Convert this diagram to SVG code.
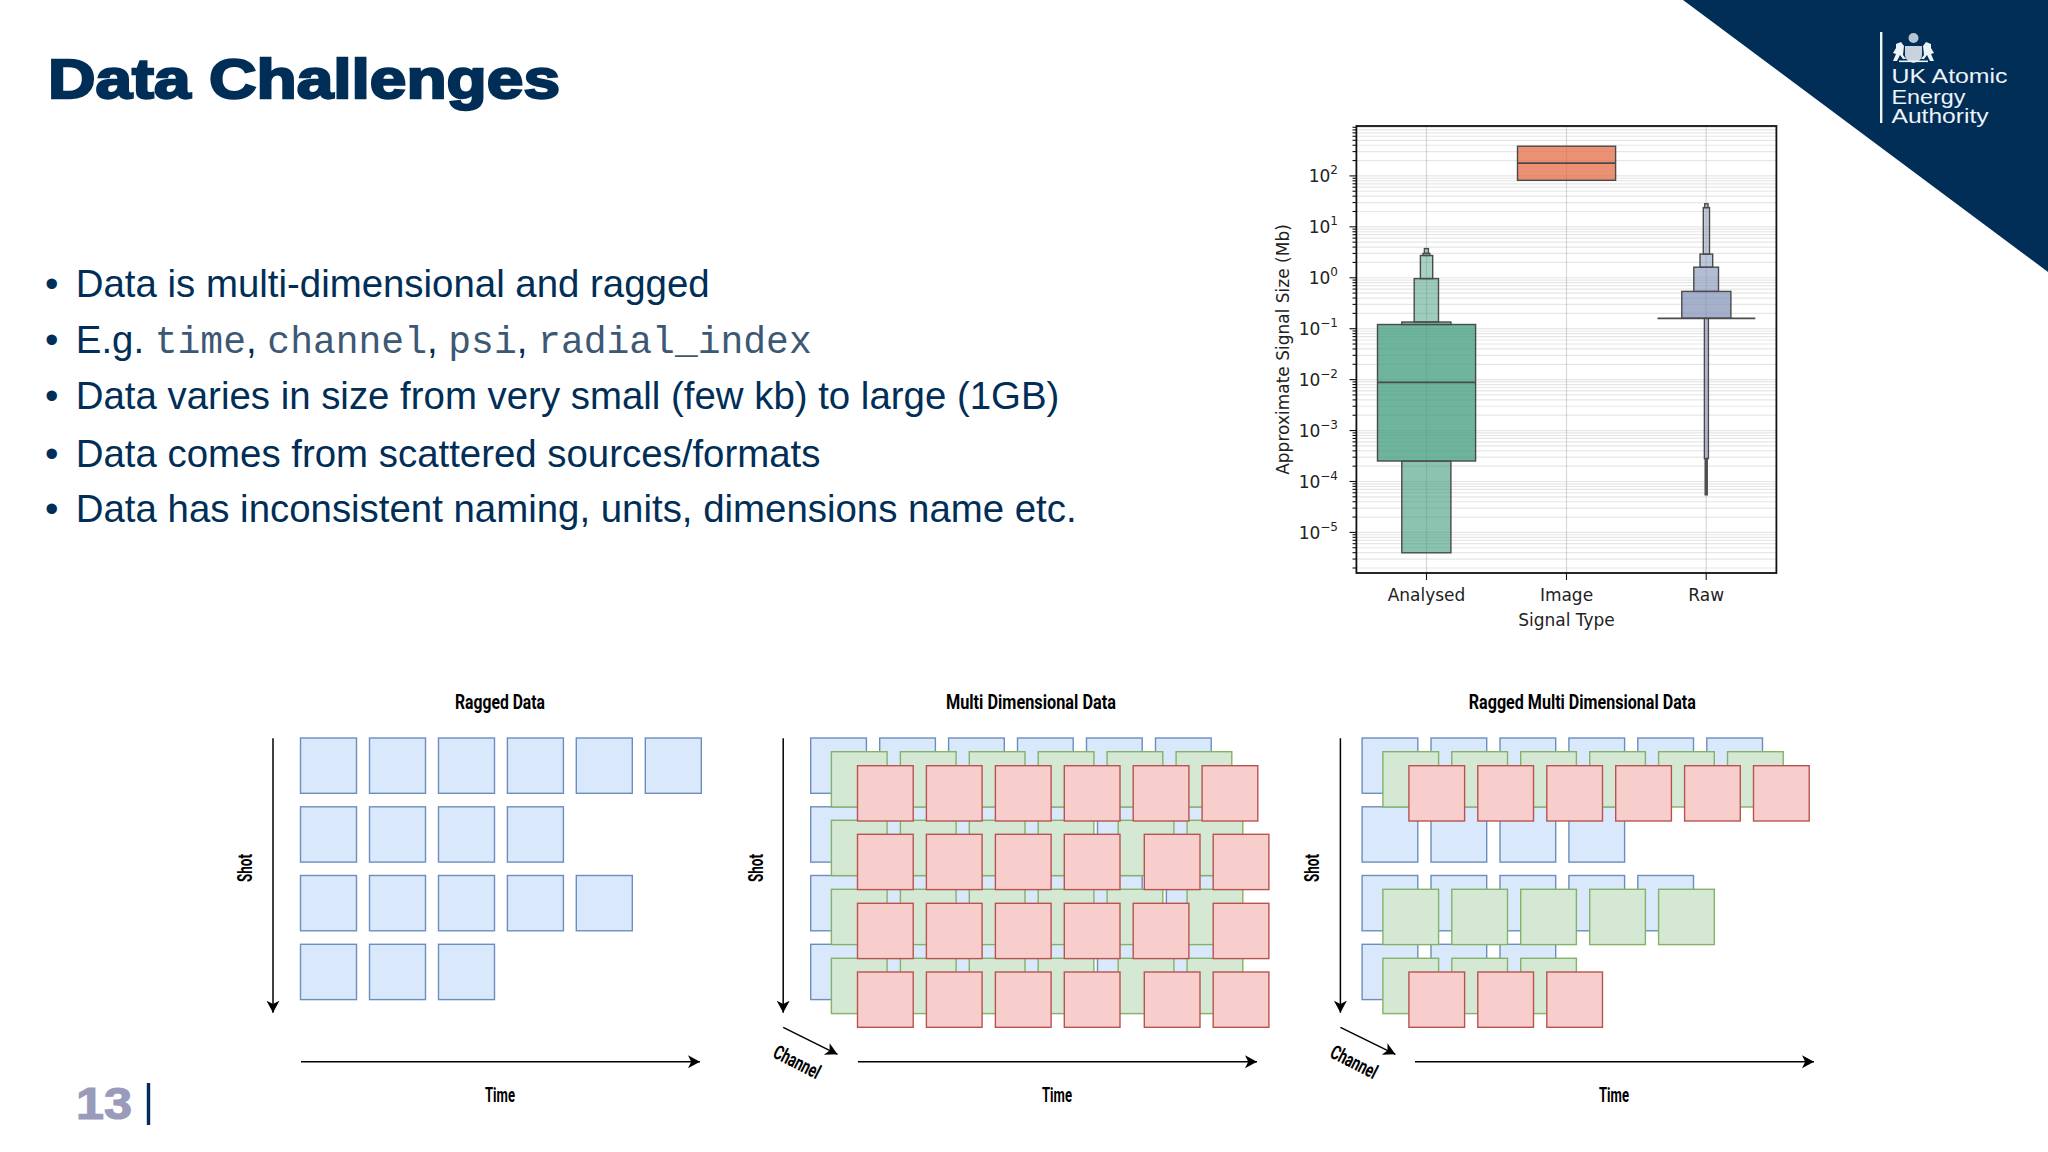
<svg xmlns="http://www.w3.org/2000/svg" width="2048" height="1152" viewBox="0 0 2048 1152">
<style>
svg{font-family:"Liberation Sans",Arial,sans-serif}
.title{font-size:56px;font-weight:700;fill:#012e57;stroke:#012e57;stroke-width:2.3px}
.bul{font-size:38.4px;fill:#012e57}
.mono{font-family:"Liberation Mono","Courier New",monospace;fill:#3d5874;font-weight:400;font-size:38px}
.logo{font-size:19.5px;fill:#eef3f8}
.cap{font-family:"Roboto","Open Sans",sans-serif;font-weight:700;font-size:20px;fill:#000}
.ax{font-family:"DejaVu Sans",sans-serif;font-size:17px;fill:#222}
.exp{font-size:12px}
.b{fill:#dae8fc;stroke:#6c8ebf;stroke-width:1.4}
.g{fill:#d5e8d4;stroke:#82b366;stroke-width:1.4}
.r{fill:#f8cecc;stroke:#b85450;stroke-width:1.4}
.arrow{stroke:#000;stroke-width:1.5;fill:none;marker-end:url(#head)}
.grid{stroke:#808080;stroke-opacity:.2;stroke-width:1.2}
.tick{stroke:#111;stroke-width:1.1}
.box{stroke:#4a4a4a;stroke-width:1.4}
.med{stroke:#4a4a4a;stroke-width:1.7;fill:none}
</style>
<defs>
<marker id="head" markerUnits="userSpaceOnUse" markerWidth="14" markerHeight="14" refX="12" refY="6.5" orient="auto"><path d="M12,6.5 L0,0 L3.2,6.5 L0,13 Z" fill="#000"/></marker>
<g id="decade">
<line class="grid" x1="1356" x2="1776" y1="0" y2="0"/><line class="grid" x1="1356" x2="1776" y1="-15.33" y2="-15.33"/><line class="grid" x1="1356" x2="1776" y1="-24.3" y2="-24.3"/><line class="grid" x1="1356" x2="1776" y1="-30.66" y2="-30.66"/><line class="grid" x1="1356" x2="1776" y1="-35.6" y2="-35.6"/><line class="grid" x1="1356" x2="1776" y1="-39.63" y2="-39.63"/><line class="grid" x1="1356" x2="1776" y1="-43.04" y2="-43.04"/><line class="grid" x1="1356" x2="1776" y1="-46" y2="-46"/><line class="grid" x1="1356" x2="1776" y1="-48.6" y2="-48.6"/>
<line class="tick" x1="1349.5" x2="1356" y1="0" y2="0"/><line class="tick" x1="1352.5" x2="1356" y1="-15.33" y2="-15.33"/><line class="tick" x1="1352.5" x2="1356" y1="-24.3" y2="-24.3"/><line class="tick" x1="1352.5" x2="1356" y1="-30.66" y2="-30.66"/><line class="tick" x1="1352.5" x2="1356" y1="-35.6" y2="-35.6"/><line class="tick" x1="1352.5" x2="1356" y1="-39.63" y2="-39.63"/><line class="tick" x1="1352.5" x2="1356" y1="-43.04" y2="-43.04"/><line class="tick" x1="1352.5" x2="1356" y1="-46" y2="-46"/><line class="tick" x1="1352.5" x2="1356" y1="-48.6" y2="-48.6"/>
</g>
<clipPath id="plotclip"><rect x="1340" y="126" width="437" height="447"/></clipPath>
</defs>
<rect width="2048" height="1152" fill="#fff"/>

<g id="header">
<polygon points="1683,0 2048,0 2048,272" fill="#012e57"/>
<text class="title" x="48" y="98.3" textLength="512" lengthAdjust="spacingAndGlyphs">Data Challenges</text>
</g>

<g id="logo">
<rect x="1880" y="32" width="2.4" height="91" fill="#eef3f8"/>
<g fill="#eef3f8">
<path d="M1905,46 h17 v9 q0,6 -8.500,8 q-8.500,-2 -8.500,-8 Z" fill="#c9d3dd"/>
<circle cx="1913.500" cy="38" r="5" fill="#b7c4d1"/>
<path d="M1896,44 l5,-2 l3,4 l-1,9 l3,4 h-3 l-3,-4 l-3,6 h-4 l3,-7 l-3,-1 l3,-5 Z"/>
<path d="M1931,44 l-5,-2 l-3,4 l1,9 l-3,4 h3 l3,-4 l3,6 h4 l-3,-7 l3,-1 l-3,-5 Z"/>
<rect x="1899" y="60.500" width="29" height="1.600"/>
</g>
<text class="logo" x="1891.500" y="82.700" textLength="116" lengthAdjust="spacingAndGlyphs">UK Atomic</text>
<text class="logo" x="1891.500" y="103.500" textLength="74" lengthAdjust="spacingAndGlyphs">Energy</text>
<text class="logo" x="1891.500" y="123" textLength="97" lengthAdjust="spacingAndGlyphs">Authority</text>
</g>

<g id="bullets" class="bul">
<text x="45" y="296.500">•</text><text x="75.800" y="296.500">Data is multi-dimensional and ragged</text>
<text x="45" y="352.500">•</text><text x="75.800" y="352.500">E.g. <tspan class="mono">time</tspan>, <tspan class="mono">channel</tspan>, <tspan class="mono">psi</tspan>, <tspan class="mono">radial_index</tspan></text>
<text x="45" y="408.500">•</text><text x="75.800" y="408.500">Data varies in size from very small (few kb) to large (1GB)</text>
<text x="45" y="466.500">•</text><text x="75.800" y="466.500">Data comes from scattered sources/formats</text>
<text x="45" y="521.500">•</text><text x="75.800" y="521.500">Data has inconsistent naming, units, dimensions name etc.</text>
</g>

<g id="page-number">
<text x="76" y="1119.300" textLength="56" lengthAdjust="spacingAndGlyphs" style="font-size:45px;font-weight:700;fill:#9a9aba;stroke:#9a9aba;stroke-width:1.200px">13</text>
<rect x="146.800" y="1083" width="3.400" height="42" fill="#012e57"/>
</g>

<g id="chart">
<g clip-path="url(#plotclip)">
<use href="#decade" y="125"/><use href="#decade" y="175.900"/><use href="#decade" y="226.830"/><use href="#decade" y="277.760"/><use href="#decade" y="328.690"/><use href="#decade" y="379.620"/><use href="#decade" y="430.550"/><use href="#decade" y="481.480"/><use href="#decade" y="532.400"/><use href="#decade" y="583.330"/>
</g>
<g stroke="#808080" stroke-opacity=".3" stroke-width="1.200">
<line x1="1426.500" x2="1426.500" y1="126" y2="573"/><line x1="1566.500" x2="1566.500" y1="126" y2="573"/><line x1="1706.200" x2="1706.200" y1="126" y2="573"/>
</g>
<g id="box-analysed" class="box">
<rect x="1401.800" y="461" width="49.100" height="91.800" fill="#3f9b7c" fill-opacity=".6"/>
<rect x="1377.500" y="324.500" width="98.100" height="136.500" fill="#3f9b7c" fill-opacity=".75"/>
<rect x="1401.800" y="322" width="49.100" height="2.500" fill="#3f9b7c" fill-opacity=".6"/>
<rect x="1414.200" y="278.600" width="24.300" height="43.400" fill="#3f9b7c" fill-opacity=".5"/>
<rect x="1420.400" y="255.500" width="12.300" height="23.100" fill="#3f9b7c" fill-opacity=".45"/>
<rect x="1423" y="253.400" width="6.800" height="2.100" fill="#3f9b7c" fill-opacity=".4"/>
<rect x="1424.400" y="248.600" width="4" height="4.800" fill="#3f9b7c" fill-opacity=".35"/>
<line class="med" x1="1377.500" x2="1475.600" y1="382.400" y2="382.400"/>
</g>
<g id="box-image" class="box">
<rect x="1517.500" y="146.200" width="98.100" height="34.100" fill="#e2643a" fill-opacity=".7"/>
<line class="med" x1="1517.500" x2="1615.600" y1="163.100" y2="163.100"/>
</g>
<g id="box-raw" class="box">
<rect x="1704.400" y="318.300" width="4" height="140.300" fill="#7f8fb5" fill-opacity=".5"/>
<rect x="1705.200" y="458.600" width="2" height="36.200" fill="#555"/>
<rect x="1681.800" y="291.400" width="49.100" height="26.900" fill="#7f8fb5" fill-opacity=".7"/>
<rect x="1693.800" y="267.200" width="24.700" height="24.200" fill="#7f8fb5" fill-opacity=".6"/>
<rect x="1700" y="254.100" width="12.700" height="13.100" fill="#7f8fb5" fill-opacity=".5"/>
<rect x="1703.300" y="207.600" width="6.200" height="46.500" fill="#7f8fb5" fill-opacity=".45"/>
<rect x="1704.700" y="203.800" width="3.300" height="3.800" fill="#7f8fb5" fill-opacity=".4"/>
<line class="med" x1="1657.500" x2="1755.300" y1="318.300" y2="318.300"/>
</g>
<rect x="1356.400" y="126" width="420" height="447" fill="none" stroke="#111" stroke-width="1.800"/>
<g class="tick"><line x1="1426.500" x2="1426.500" y1="573" y2="580"/><line x1="1566.500" x2="1566.500" y1="573" y2="580"/><line x1="1706.200" x2="1706.200" y1="573" y2="580"/></g>
<g class="ax" text-anchor="end">
<text x="1338" y="182">10<tspan class="exp" dy="-8">2</tspan></text>
<text x="1338" y="233">10<tspan class="exp" dy="-8">1</tspan></text>
<text x="1338" y="284">10<tspan class="exp" dy="-8">0</tspan></text>
<text x="1338" y="335">10<tspan class="exp" dy="-8">−1</tspan></text>
<text x="1338" y="386">10<tspan class="exp" dy="-8">−2</tspan></text>
<text x="1338" y="437">10<tspan class="exp" dy="-8">−3</tspan></text>
<text x="1338" y="487.500">10<tspan class="exp" dy="-8">−4</tspan></text>
<text x="1338" y="538.500">10<tspan class="exp" dy="-8">−5</tspan></text>
</g>
<g class="ax" text-anchor="middle">
<text x="1426.500" y="600.500">Analysed</text>
<text x="1566.500" y="600.500">Image</text>
<text x="1706.200" y="600.500">Raw</text>
<text x="1566.500" y="625.500">Signal Type</text>
<text transform="translate(1289,349.500) rotate(-90)">Approximate Signal Size (Mb)</text>
</g>
</g>

<g id="panel-ragged">
<g class="b">
<rect x="300.500" y="738" width="56" height="55.300"/><rect x="369.500" y="738" width="56" height="55.300"/><rect x="438.500" y="738" width="56" height="55.300"/><rect x="507.400" y="738" width="56" height="55.300"/><rect x="576.300" y="738" width="56" height="55.300"/><rect x="645.300" y="738" width="56" height="55.300"/>
<rect x="300.500" y="806.800" width="56" height="55.300"/><rect x="369.500" y="806.800" width="56" height="55.300"/><rect x="438.500" y="806.800" width="56" height="55.300"/><rect x="507.400" y="806.800" width="56" height="55.300"/>
<rect x="300.500" y="875.500" width="56" height="55.300"/><rect x="369.500" y="875.500" width="56" height="55.300"/><rect x="438.500" y="875.500" width="56" height="55.300"/><rect x="507.400" y="875.500" width="56" height="55.300"/><rect x="576.300" y="875.500" width="56" height="55.300"/>
<rect x="300.500" y="944.300" width="56" height="55.300"/><rect x="369.500" y="944.300" width="56" height="55.300"/><rect x="438.500" y="944.300" width="56" height="55.300"/>
</g>
<text class="cap" x="500" y="709" text-anchor="middle" textLength="90" lengthAdjust="spacingAndGlyphs">Ragged Data</text>
<text class="cap" x="500" y="1101.700" text-anchor="middle" textLength="30" lengthAdjust="spacingAndGlyphs">Time</text>
<text class="cap" transform="translate(252,868) rotate(-90)" text-anchor="middle" textLength="28" lengthAdjust="spacingAndGlyphs">Shot</text>
</g>

<g id="panel-multi">
<g class="b">
<rect x="810.700" y="738" width="55.700" height="55.300"/><rect x="879.700" y="738" width="55.700" height="55.300"/><rect x="948.600" y="738" width="55.700" height="55.300"/><rect x="1017.500" y="738" width="55.700" height="55.300"/><rect x="1086.500" y="738" width="55.700" height="55.300"/><rect x="1155.500" y="738" width="55.700" height="55.300"/>
<rect x="810.700" y="806.800" width="55.700" height="55.300"/><rect x="879.700" y="806.800" width="55.700" height="55.300"/><rect x="948.600" y="806.800" width="55.700" height="55.300"/><rect x="1017.500" y="806.800" width="55.700" height="55.300"/><rect x="1097.500" y="806.800" width="55.700" height="55.300"/><rect x="1166.400" y="806.800" width="55.700" height="55.300"/>
<rect x="810.700" y="875.500" width="55.700" height="55.300"/><rect x="879.700" y="875.500" width="55.700" height="55.300"/><rect x="948.600" y="875.500" width="55.700" height="55.300"/><rect x="1017.500" y="875.500" width="55.700" height="55.300"/><rect x="1086.500" y="875.500" width="55.700" height="55.300"/><rect x="1166.400" y="875.500" width="55.700" height="55.300"/>
<rect x="810.700" y="944.300" width="55.700" height="55.300"/><rect x="879.700" y="944.300" width="55.700" height="55.300"/><rect x="948.600" y="944.300" width="55.700" height="55.300"/><rect x="1017.500" y="944.300" width="55.700" height="55.300"/><rect x="1097.500" y="944.300" width="55.700" height="55.300"/><rect x="1166.400" y="944.300" width="55.700" height="55.300"/>
</g>
<g class="g">
<rect x="831.400" y="751.700" width="55.700" height="55.300"/><rect x="900.400" y="751.700" width="55.700" height="55.300"/><rect x="969.300" y="751.700" width="55.700" height="55.300"/><rect x="1038.200" y="751.700" width="55.700" height="55.300"/><rect x="1107.100" y="751.700" width="55.700" height="55.300"/><rect x="1176.100" y="751.700" width="55.700" height="55.300"/>
<rect x="831.400" y="820.300" width="55.700" height="55.300"/><rect x="900.400" y="820.300" width="55.700" height="55.300"/><rect x="969.300" y="820.300" width="55.700" height="55.300"/><rect x="1038.200" y="820.300" width="55.700" height="55.300"/><rect x="1118.200" y="820.300" width="55.700" height="55.300"/><rect x="1187.100" y="820.300" width="55.700" height="55.300"/>
<rect x="831.400" y="889.300" width="55.700" height="55.300"/><rect x="900.400" y="889.300" width="55.700" height="55.300"/><rect x="969.300" y="889.300" width="55.700" height="55.300"/><rect x="1038.200" y="889.300" width="55.700" height="55.300"/><rect x="1107.100" y="889.300" width="55.700" height="55.300"/><rect x="1187.100" y="889.300" width="55.700" height="55.300"/>
<rect x="831.400" y="958.300" width="55.700" height="55.300"/><rect x="900.400" y="958.300" width="55.700" height="55.300"/><rect x="969.300" y="958.300" width="55.700" height="55.300"/><rect x="1038.200" y="958.300" width="55.700" height="55.300"/><rect x="1118.200" y="958.300" width="55.700" height="55.300"/><rect x="1187.100" y="958.300" width="55.700" height="55.300"/>
</g>
<g class="r">
<rect x="857.500" y="765.700" width="55.700" height="55.300"/><rect x="926.400" y="765.700" width="55.700" height="55.300"/><rect x="995.400" y="765.700" width="55.700" height="55.300"/><rect x="1064.300" y="765.700" width="55.700" height="55.300"/><rect x="1133.200" y="765.700" width="55.700" height="55.300"/><rect x="1202.100" y="765.700" width="55.700" height="55.300"/>
<rect x="857.500" y="834.300" width="55.700" height="55.300"/><rect x="926.400" y="834.300" width="55.700" height="55.300"/><rect x="995.400" y="834.300" width="55.700" height="55.300"/><rect x="1064.300" y="834.300" width="55.700" height="55.300"/><rect x="1144.300" y="834.300" width="55.700" height="55.300"/><rect x="1213.200" y="834.300" width="55.700" height="55.300"/>
<rect x="857.500" y="903.300" width="55.700" height="55.300"/><rect x="926.400" y="903.300" width="55.700" height="55.300"/><rect x="995.400" y="903.300" width="55.700" height="55.300"/><rect x="1064.300" y="903.300" width="55.700" height="55.300"/><rect x="1133.200" y="903.300" width="55.700" height="55.300"/><rect x="1213.200" y="903.300" width="55.700" height="55.300"/>
<rect x="857.500" y="972" width="55.700" height="55.300"/><rect x="926.400" y="972" width="55.700" height="55.300"/><rect x="995.400" y="972" width="55.700" height="55.300"/><rect x="1064.300" y="972" width="55.700" height="55.300"/><rect x="1144.300" y="972" width="55.700" height="55.300"/><rect x="1213.200" y="972" width="55.700" height="55.300"/>
</g>
<text class="cap" x="1030.900" y="709" text-anchor="middle" textLength="170" lengthAdjust="spacingAndGlyphs">Multi Dimensional Data</text>
<text class="cap" x="1057" y="1101.700" text-anchor="middle" textLength="30" lengthAdjust="spacingAndGlyphs">Time</text>
<text class="cap" transform="translate(762.700,868) rotate(-90)" text-anchor="middle" textLength="28" lengthAdjust="spacingAndGlyphs">Shot</text>
<text class="cap" transform="translate(794,1068) rotate(27)" text-anchor="middle" textLength="50" lengthAdjust="spacingAndGlyphs">Channel</text>
</g>

<g id="panel-ragged-multi">
<g class="b">
<rect x="1362.100" y="738" width="55.700" height="55.300"/><rect x="1431" y="738" width="55.700" height="55.300"/><rect x="1500" y="738" width="55.700" height="55.300"/><rect x="1568.900" y="738" width="55.700" height="55.300"/><rect x="1637.800" y="738" width="55.700" height="55.300"/><rect x="1706.800" y="738" width="55.700" height="55.300"/>
<rect x="1362.100" y="806.800" width="55.700" height="55.300"/><rect x="1431" y="806.800" width="55.700" height="55.300"/><rect x="1500" y="806.800" width="55.700" height="55.300"/><rect x="1568.900" y="806.800" width="55.700" height="55.300"/>
<rect x="1362.100" y="875.500" width="55.700" height="55.300"/><rect x="1431" y="875.500" width="55.700" height="55.300"/><rect x="1500" y="875.500" width="55.700" height="55.300"/><rect x="1568.900" y="875.500" width="55.700" height="55.300"/><rect x="1637.800" y="875.500" width="55.700" height="55.300"/>
<rect x="1362.100" y="944.300" width="55.700" height="55.300"/><rect x="1431" y="944.300" width="55.700" height="55.300"/><rect x="1500" y="944.300" width="55.700" height="55.300"/>
</g>
<g class="g">
<rect x="1382.900" y="751.700" width="55.700" height="55.300"/><rect x="1451.800" y="751.700" width="55.700" height="55.300"/><rect x="1520.700" y="751.700" width="55.700" height="55.300"/><rect x="1589.700" y="751.700" width="55.700" height="55.300"/><rect x="1658.600" y="751.700" width="55.700" height="55.300"/><rect x="1727.500" y="751.700" width="55.700" height="55.300"/>
<rect x="1382.900" y="889.300" width="55.700" height="55.300"/><rect x="1451.800" y="889.300" width="55.700" height="55.300"/><rect x="1520.700" y="889.300" width="55.700" height="55.300"/><rect x="1589.700" y="889.300" width="55.700" height="55.300"/><rect x="1658.600" y="889.300" width="55.700" height="55.300"/>
<rect x="1382.900" y="958.300" width="55.700" height="55.300"/><rect x="1451.800" y="958.300" width="55.700" height="55.300"/><rect x="1520.700" y="958.300" width="55.700" height="55.300"/>
</g>
<g class="r">
<rect x="1408.900" y="765.700" width="55.700" height="55.300"/><rect x="1477.800" y="765.700" width="55.700" height="55.300"/><rect x="1546.800" y="765.700" width="55.700" height="55.300"/><rect x="1615.700" y="765.700" width="55.700" height="55.300"/><rect x="1684.600" y="765.700" width="55.700" height="55.300"/><rect x="1753.500" y="765.700" width="55.700" height="55.300"/>
<rect x="1408.900" y="972" width="55.700" height="55.300"/><rect x="1477.800" y="972" width="55.700" height="55.300"/><rect x="1546.800" y="972" width="55.700" height="55.300"/>
</g>
<text class="cap" x="1582.300" y="709" text-anchor="middle" textLength="227" lengthAdjust="spacingAndGlyphs">Ragged Multi Dimensional Data</text>
<text class="cap" x="1614" y="1101.700" text-anchor="middle" textLength="30" lengthAdjust="spacingAndGlyphs">Time</text>
<text class="cap" transform="translate(1319,868) rotate(-90)" text-anchor="middle" textLength="28" lengthAdjust="spacingAndGlyphs">Shot</text>
<text class="cap" transform="translate(1351,1068) rotate(27)" text-anchor="middle" textLength="50" lengthAdjust="spacingAndGlyphs">Channel</text>
</g>

<g id="connectors">
<line class="arrow" x1="273" y1="738.300" x2="273" y2="1012.700"/>
<line class="arrow" x1="301" y1="1061.700" x2="700" y2="1061.700"/>
<line class="arrow" x1="783.200" y1="738.300" x2="783.200" y2="1012.700"/>
<line class="arrow" x1="783.200" y1="1027.300" x2="837.500" y2="1054.300"/>
<line class="arrow" x1="857.900" y1="1061.700" x2="1257" y2="1061.700"/>
<line class="arrow" x1="1340.400" y1="738.300" x2="1340.400" y2="1012.700"/>
<line class="arrow" x1="1340.400" y1="1027.300" x2="1395.400" y2="1054.300"/>
<line class="arrow" x1="1415" y1="1061.700" x2="1814" y2="1061.700"/>
</g>
</svg>
